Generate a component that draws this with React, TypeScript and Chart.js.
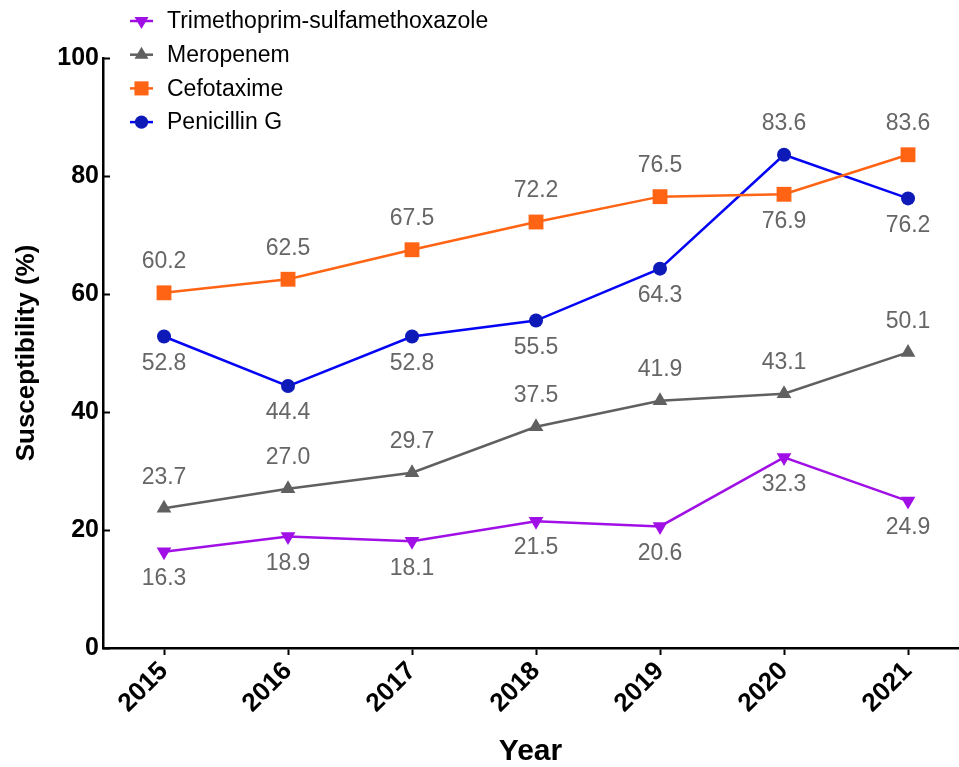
import React, { useEffect, useRef } from "react";
import { Chart, registerables } from "chart.js";

Chart.register(...registerables);

const years = [2015, 2016, 2017, 2018, 2019, 2020, 2021];
const yTicks = [0, 20, 40, 60, 80, 100];

const seriesNames = ["Trimethoprim-sulfamethoxazole", "Meropenem", "Cefotaxime", "Penicillin G"];
const trimethoprim = [16.3, 18.9, 18.1, 21.5, 20.6, 32.3, 24.9];
const meropenem = [23.7, 27.0, 29.7, 37.5, 41.9, 43.1, 50.1];
const cefotaxime = [60.2, 62.5, 67.5, 72.2, 76.5, 76.9, 83.6];
const penicillin = [52.8, 44.4, 52.8, 55.5, 64.3, 83.6, 76.2];

// label placement per point: "a" above, "b" below
const trimethoprimLabelPos = ["b", "b", "b", "b", "b", "b", "b"];
const meropenemLabelPos = ["a", "a", "a", "a", "a", "a", "a"];
const cefotaximeLabelPos = ["a", "a", "a", "a", "a", "b", "a"];
const penicillinLabelPos = ["b", "b", "b", "b", "b", "a", "b"];

const FONT = "'Liberation Sans', Arial, Helvetica, sans-serif";

const seriesStyle = [
  { line: "#a010e6", fill: "#a010e6", shape: "triDown", radius: 8.5 },
  { line: "#606060", fill: "#606060", shape: "tri", radius: 8.5 },
  { line: "#ff6414", fill: "#ff6414", shape: "rect", radius: 10.5 },
  { line: "#0505f5", fill: "#0d1ab8", shape: "circle", radius: 7 },
];

function drawMarker(ctx: CanvasRenderingContext2D, shape: string, x: number, y: number, r: number, color: string) {
  ctx.save();
  ctx.fillStyle = color;
  ctx.beginPath();
  if (shape === "circle") {
    ctx.arc(x, y, r, 0, Math.PI * 2);
  } else if (shape === "rect") {
    const s = r * Math.SQRT1_2;
    ctx.rect(x - s, y - s, 2 * s, 2 * s);
  } else if (shape === "tri") {
    ctx.moveTo(x, y - r);
    ctx.lineTo(x + r * Math.sin(Math.PI * 2 / 3), y + r / 2);
    ctx.lineTo(x - r * Math.sin(Math.PI * 2 / 3), y + r / 2);
    ctx.closePath();
  } else {
    ctx.moveTo(x, y + r);
    ctx.lineTo(x + r * Math.sin(Math.PI * 2 / 3), y - r / 2);
    ctx.lineTo(x - r * Math.sin(Math.PI * 2 / 3), y - r / 2);
    ctx.closePath();
  }
  ctx.fill();
  ctx.restore();
}

export default function App() {
  const ref = useRef<HTMLCanvasElement | null>(null);

  useEffect(() => {
    document.body.style.margin = "0";
    const canvas = ref.current;
    if (!canvas) return;

    const values = [trimethoprim, meropenem, cefotaxime, penicillin];
    const labelPos = [trimethoprimLabelPos, meropenemLabelPos, cefotaximeLabelPos, penicillinLabelPos];

    const datasets = values.map((vals, i) => {
      const st = seriesStyle[i];
      const ptStyle = st.shape === "circle" ? "circle" : st.shape === "rect" ? "rect" : "triangle";
      return {
        label: seriesNames[i],
        data: vals.map((v, j) => ({ x: years[j], y: v })),
        borderColor: st.line,
        backgroundColor: st.fill,
        borderWidth: 2.5,
        pointStyle: ptStyle,
        pointRadius: st.radius,
        pointRotation: st.shape === "triDown" ? 180 : 0,
        pointBackgroundColor: st.fill,
        pointBorderColor: st.fill,
        pointBorderWidth: 0,
        tension: 0,
        clip: false,
      };
    });

    const labelsPlugin = {
      id: "valueLabels",
      afterDatasetsDraw(chart: any) {
        const ctx = chart.ctx;
        ctx.save();
        ctx.font = `23px ${FONT}`;
        ctx.fillStyle = "#666666";
        ctx.textAlign = "center";
        ctx.textBaseline = "middle";
        values.forEach((vals, i) => {
          const meta = chart.getDatasetMeta(i);
          meta.data.forEach((pt: any, j: number) => {
            const above = labelPos[i][j] === "a";
            const y = above ? pt.y - 31 : pt.y + 27;
            ctx.fillText(vals[j].toFixed(1), pt.x, y);
          });
        });
        ctx.restore();
      },
    };

    const axisExtrasPlugin = {
      id: "axisExtras",
      afterDraw(chart: any) {
        const ctx = chart.ctx;
        const ys = chart.scales.y;
        const xs = chart.scales.x;
        const { left, bottom } = chart.chartArea;
        ctx.save();
        // inward y ticks
        ctx.strokeStyle = "#000";
        ctx.lineWidth = 2;
        yTicks.forEach((v) => {
          const py = Math.round(ys.getPixelForValue(v)) + 0.5;
          ctx.beginPath();
          ctx.moveTo(left, py);
          ctx.lineTo(left + 7, py);
          ctx.stroke();
        });
        // rotated x tick labels
        ctx.fillStyle = "#000";
        ctx.font = `bold 26px ${FONT}`;
        ctx.textAlign = "right";
        ctx.textBaseline = "middle";
        years.forEach((yr) => {
          const px = xs.getPixelForValue(yr);
          ctx.save();
          ctx.translate(px, bottom + 19);
          ctx.rotate(-Math.PI / 4);
          ctx.fillText(String(yr), 0, 0);
          ctx.restore();
        });
        ctx.restore();
      },
    };

    const legendPlugin = {
      id: "customLegend",
      afterDraw(chart: any) {
        const ctx = chart.ctx;
        ctx.save();
        seriesNames.forEach((name, i) => {
          const st = seriesStyle[i];
          const y = 21 + i * 33.7;
          ctx.strokeStyle = st.line;
          ctx.lineWidth = 2.5;
          ctx.beginPath();
          ctx.moveTo(130, y);
          ctx.lineTo(153, y);
          ctx.stroke();
          drawMarker(ctx, st.shape, 141.5, y, st.radius * 0.95, st.fill);
          ctx.fillStyle = "#000";
          ctx.font = `23px ${FONT}`;
          ctx.textAlign = "left";
          ctx.textBaseline = "middle";
          ctx.fillText(name, 167, y + 1);
        });
        ctx.restore();
      },
    };

    const chart = new Chart(canvas, {
      type: "line",
      data: { datasets: datasets as any },
      plugins: [labelsPlugin, axisExtrasPlugin, legendPlugin],
      options: {
        animation: false,
        responsive: false,
        maintainAspectRatio: false,
        layout: { autoPadding: false, padding: { top: 58, right: 1, left: 0, bottom: 0 } },
        plugins: {
          legend: { display: false },
          tooltip: { enabled: false },
        },
        scales: {
          x: {
            type: "linear",
            min: 2014.508,
            max: 2021.403,
            afterBuildTicks: (axis: any) => {
              axis.ticks = years.map((v) => ({ value: v }));
            },
            afterFit: (scale: any) => {
              scale.height = 119;
            },
            grid: {
              display: true,
              drawOnChartArea: false,
              drawTicks: true,
              tickLength: 7,
              tickWidth: 2,
              tickColor: "#000",
            },
            border: { display: true, color: "#000", width: 2.5 },
            ticks: { display: false },
            title: {
              display: true,
              text: "Year",
              color: "#000",
              font: { family: FONT, size: 30, weight: "bold", lineHeight: 1 },
              padding: { top: 0, bottom: 0 },
            },
          },
          y: {
            type: "linear",
            min: 0,
            max: 100,
            afterBuildTicks: (axis: any) => {
              axis.ticks = yTicks.map((v) => ({ value: v }));
            },
            afterFit: (scale: any) => {
              scale.width = 103;
            },
            grid: { display: false, drawTicks: false },
            border: { display: true, color: "#000", width: 2.5 },
            ticks: {
              padding: 4,
              color: "#000",
              font: { family: FONT, size: 25, weight: "bold" },
            },
            title: {
              display: true,
              text: "Susceptibility (%)",
              color: "#000",
              font: { family: FONT, size: 26, weight: "bold", lineHeight: 1.2 },
              padding: { top: 11, bottom: 0 },
            },
          },
        },
      } as any,
    });

    return () => chart.destroy();
  }, []);

  return (
    <div style={{ width: 959, height: 767, position: "relative", background: "#fff" }}>
      <canvas ref={ref} width={959} height={767} style={{ display: "block", width: 959, height: 767 }} />
    </div>
  );
}
